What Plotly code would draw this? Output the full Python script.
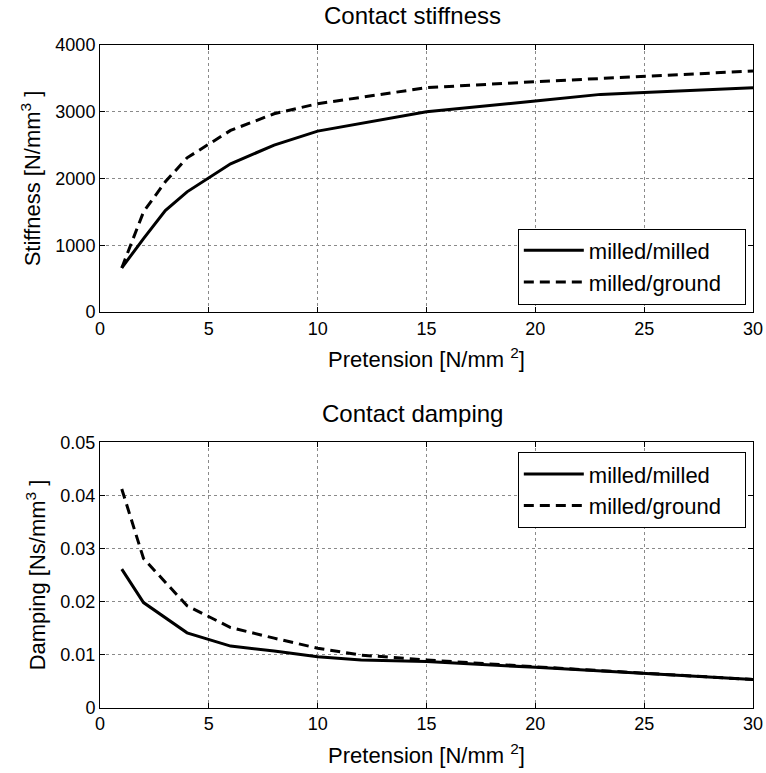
import plotly.graph_objects as go
from plotly.subplots import make_subplots

# Pretension levels [N/mm^2]
x_mm_stiff = [1, 2, 3, 4, 6, 8, 10, 15, 20, 23, 25, 30]
stiff_milled = [660, 1100, 1520, 1800, 2220, 2500, 2710, 3000, 3160, 3260, 3290, 3360]
x_mg_stiff = [1, 2, 3, 4, 6, 8, 10, 15, 20, 25, 30]
stiff_ground = [660, 1500, 1950, 2310, 2720, 2970, 3120, 3360, 3450, 3525, 3610]

x_damp = [1, 2, 4, 6, 8, 10, 12, 15, 20, 25, 28, 30]
damp_milled = [0.0261, 0.0198, 0.0141, 0.0116, 0.0107, 0.0096, 0.0090, 0.0087, 0.0076, 0.0065, 0.0057, 0.0053]
damp_ground = [0.0412, 0.0281, 0.0192, 0.0151, 0.0131, 0.0112, 0.0099, 0.0090, 0.0077, 0.0065, 0.0057, 0.0053]

series_names = ["milled/milled", "milled/ground"]

FONT = "Liberation Sans, Arial, sans-serif"
DASH = "10px,6px"
TICK_SIZE = 18
LABEL_SIZE = 22
TITLE_SIZE = 24
PAD = "\u00a0" * 3  # extra room on the right side of the legend box

fig = make_subplots(rows=2, cols=1)

fig.add_trace(go.Scatter(x=x_mm_stiff, y=stiff_milled, mode="lines", name=series_names[0] + PAD,
                         line=dict(color="black", width=3), legend="legend"), row=1, col=1)
fig.add_trace(go.Scatter(x=x_mg_stiff, y=stiff_ground, mode="lines", name=series_names[1] + PAD,
                         line=dict(color="black", width=3, dash=DASH), legend="legend"), row=1, col=1)
fig.add_trace(go.Scatter(x=x_damp, y=damp_milled, mode="lines", name=series_names[0] + PAD,
                         line=dict(color="black", width=3), legend="legend2"), row=2, col=1)
fig.add_trace(go.Scatter(x=x_damp, y=damp_ground, mode="lines", name=series_names[1] + PAD,
                         line=dict(color="black", width=3, dash=DASH), legend="legend2"), row=2, col=1)

axis_style = dict(
    showline=True, linecolor="black", linewidth=1, mirror="ticks",
    ticks="inside", ticklen=5, tickcolor="black", automargin=False,
    showgrid=True, gridcolor="#8a8a8a", griddash="dot", gridwidth=1,
    zeroline=False, tickfont=dict(size=TICK_SIZE, color="black", family=FONT),
    title_font=dict(size=LABEL_SIZE, color="black", family=FONT),
)

fig.update_xaxes(**axis_style, range=[0, 30], dtick=5, domain=[0, 1])
fig.update_xaxes(title_text="Pretension [N/mm <sup>2</sup>]", title_standoff=14, row=1, col=1)
fig.update_xaxes(title_text="Pretension [N/mm <sup>2</sup>]", title_standoff=14, row=2, col=1)

fig.update_yaxes(**axis_style)
fig.update_yaxes(range=[0, 4000], dtick=1000, domain=[0.5964, 0.9418],
                 title_text="Stiffness [N/mm<sup>3</sup> ]", title_standoff=8, row=1, col=1)
fig.update_yaxes(range=[0, 0.05], dtick=0.01, tickformat=".2~f", domain=[0.0845, 0.4278],
                 title_text="Damping [Ns/mm<sup>3</sup> ]", title_standoff=8, row=2, col=1)

legend_style = dict(
    bgcolor="white", bordercolor="black", borderwidth=1,
    font=dict(size=LABEL_SIZE, color="black", family=FONT),
    itemwidth=60, tracegroupgap=0, xref="paper", yref="paper", xanchor="right",
)

fig.update_layout(
    width=766, height=773,
    margin=dict(l=100, r=13, t=0, b=0, autoexpand=False),
    paper_bgcolor="white", plot_bgcolor="white",
    font=dict(family=FONT, color="black"),
    showlegend=True,
    legend=dict(**legend_style, x=0.989, y=0.606, yanchor="bottom"),
    legend2=dict(**legend_style, x=0.989, y=0.415, yanchor="top"),
    annotations=[
        dict(text="Contact stiffness", x=0.478, y=0.9418, xref="paper", yref="paper",
             xanchor="center", yanchor="bottom", yshift=14, showarrow=False,
             font=dict(size=TITLE_SIZE, color="black", family=FONT)),
        dict(text="Contact damping", x=0.478, y=0.4278, xref="paper", yref="paper",
             xanchor="center", yanchor="bottom", yshift=13, showarrow=False,
             font=dict(size=TITLE_SIZE, color="black", family=FONT)),
    ],
)

fig.write_html("out.html")
